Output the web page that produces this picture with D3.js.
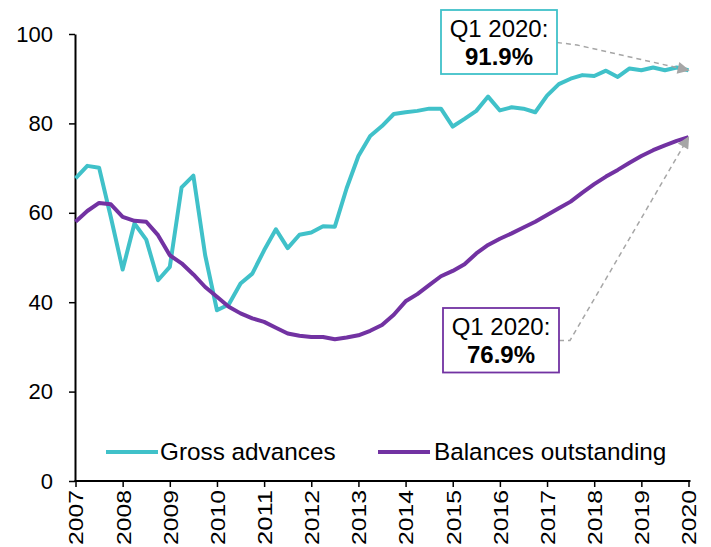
<!DOCTYPE html>
<html>
<head>
<meta charset="utf-8">
<script src="https://cdn.jsdelivr.net/npm/d3@7"></script>
<style>
  html, body { margin: 0; padding: 0; background: #fff; }
  svg { display: block; font-family: "Liberation Sans", Arial, Helvetica, sans-serif; }
</style>
</head>
<body>
<svg id="chart" width="711" height="547"></svg>
<script>
// Quarterly observations, 2007 Q1 to 2020 Q1 (per cent)
const quarters = d3.range(2007, 2020.01, 0.25);

const grossAdvances = [
  67.7, 70.5, 70.1, 59.0, 47.3, 57.6, 54.0, 44.9, 47.9, 65.7,
  68.3, 50.5, 38.2, 39.5, 44.2, 46.4, 51.6, 56.3, 52.1, 55.1,
  55.6, 57.0, 56.9, 65.5, 72.7, 77.2, 79.4, 82.1, 82.5, 82.8,
  83.3, 83.3, 79.3, 81.0, 82.8, 86.0, 82.9, 83.6, 83.3, 82.5,
  86.2, 88.8, 90.0, 90.8, 90.6, 91.8, 90.4, 92.3, 91.9, 92.5,
  91.9, 92.5, 91.9
];

const balancesOutstanding = [
  58.0, 60.4, 62.2, 61.9, 59.1, 58.2, 58.0, 55.0, 50.5, 48.7,
  46.2, 43.4, 41.2, 39.0, 37.5, 36.4, 35.6, 34.3, 33.0, 32.5,
  32.2, 32.2, 31.7, 32.1, 32.6, 33.6, 34.9, 37.2, 40.2, 41.8,
  43.8, 45.8, 47.0, 48.5, 50.9, 52.8, 54.2, 55.4, 56.7, 58.0,
  59.5, 61.0, 62.5, 64.5, 66.4, 68.1, 69.6, 71.2, 72.7, 74.0,
  75.1, 76.1, 76.9
];

const seriesNames = ["Gross advances", "Balances outstanding"];
const yearTicks = d3.range(2007, 2021);
const yTicks = [0, 20, 40, 60, 80, 100];
const latestLabel = "Q1 2020:";

const colors = ["#40C1C9", "#7232A2"];
const arrowGrey = "#A6A6A6";

const svg = d3.select("#chart");

const x = d3.scaleLinear().domain([2007, 2020]).range([75.5, 688.5]);
const y = d3.scaleLinear().domain([0, 100]).range([481, 34]);

// Y axis
const yAxis = svg.append("g")
  .attr("transform", "translate(75,0)")
  .call(d3.axisLeft(y).tickValues(yTicks).tickSize(6).tickSizeOuter(0).tickPadding(16));
yAxis.select(".domain").attr("stroke", "#000").attr("stroke-width", 2);
yAxis.selectAll(".tick line").attr("stroke", "#000").attr("stroke-width", 1.5);
yAxis.selectAll(".tick text")
  .attr("font-size", 22)
  .attr("fill", "#000")
  .attr("font-family", "Liberation Sans, Arial, sans-serif");

// X axis with upright year labels
const xAxis = svg.append("g")
  .attr("transform", "translate(0,481)")
  .call(d3.axisBottom(x).tickValues(yearTicks).tickSize(6).tickSizeOuter(0).tickFormat(d3.format("d")));
xAxis.select(".domain").attr("stroke", "#000").attr("stroke-width", 2)
  .attr("d", `M${x.range()[0] - 1},0H${x.range()[1] + 2}`);
xAxis.selectAll(".tick line").attr("stroke", "#000").attr("stroke-width", 1.5);
xAxis.selectAll(".tick text")
  .attr("font-size", 21)
  .attr("fill", "#000")
  .attr("font-family", "Liberation Sans, Arial, sans-serif")
  .attr("text-anchor", "end")
  .attr("dy", "0.35em")
  .attr("y", 0)
  .attr("transform", "translate(0,9) rotate(-90)")
  .attr("textLength", 55)
  .attr("lengthAdjust", "spacingAndGlyphs");

// Lines
const line = d3.line()
  .x((d, i) => x(quarters[i]))
  .y(d => y(d));

[grossAdvances, balancesOutstanding].forEach((vals, k) => {
  svg.append("path")
    .datum(vals)
    .attr("fill", "none")
    .attr("stroke", colors[k])
    .attr("stroke-width", 4)
    .attr("stroke-linejoin", "round")
    .attr("stroke-linecap", "butt")
    .attr("d", line);
});

// Legend
const legend = [
  { lx: 106, tx: 160 },
  { lx: 378, tx: 434 }
];
legend.forEach((p, k) => {
  svg.append("line")
    .attr("x1", p.lx).attr("x2", p.lx + 52)
    .attr("y1", 452).attr("y2", 452)
    .attr("stroke", colors[k]).attr("stroke-width", 4);
  svg.append("text")
    .attr("x", p.tx).attr("y", 460)
    .attr("font-size", 24.3)
    .attr("fill", "#000")
    .text(seriesNames[k]);
});

// Arrowhead
svg.append("defs").append("marker")
  .attr("id", "arrow")
  .attr("viewBox", "0 0 10 10")
  .attr("refX", 9).attr("refY", 5)
  .attr("markerWidth", 14).attr("markerHeight", 12)
  .attr("markerUnits", "userSpaceOnUse")
  .attr("orient", "auto")
  .append("path")
  .attr("d", "M0,0L10,5L0,10Z")
  .attr("fill", arrowGrey);

// Latest-value callouts
const last = quarters.length - 1;
const endX = x(quarters[last]);
const fmt = d3.format(".1f");

const callouts = [
  { vals: grossAdvances, box: [441, 10, 116, 64], elbow: 20, elbowDy: 2.5, startY: 42.5 },
  { vals: balancesOutstanding, box: [443, 308, 116, 64.5], elbow: 11, elbowDy: 0, startY: 340.5 }
];

callouts.forEach((c, k) => {
  const [bx, by, bw, bh] = c.box;
  const tipY = y(c.vals[last]);
  const sx = bx + bw;
  svg.append("path")
    .attr("d", `M${sx},${c.startY}L${sx + c.elbow},${c.startY + c.elbowDy}L${endX},${tipY}`)
    .attr("fill", "none")
    .attr("stroke", arrowGrey)
    .attr("stroke-width", 1.5)
    .attr("stroke-dasharray", "5,4")
    .attr("marker-end", "url(#arrow)");

  svg.append("rect")
    .attr("x", bx).attr("y", by).attr("width", bw).attr("height", bh)
    .attr("fill", "#fff")
    .attr("stroke", colors[k])
    .attr("stroke-width", 1.8);

  svg.append("text")
    .attr("x", bx + bw / 2).attr("y", by + 27)
    .attr("text-anchor", "middle")
    .attr("font-size", 24)
    .attr("fill", "#000")
    .text(latestLabel);
  svg.append("text")
    .attr("x", bx + bw / 2).attr("y", by + 55)
    .attr("text-anchor", "middle")
    .attr("font-size", 24)
    .attr("font-weight", "bold")
    .attr("fill", "#000")
    .text(fmt(c.vals[last]) + "%");
});
</script>
</body>
</html>
